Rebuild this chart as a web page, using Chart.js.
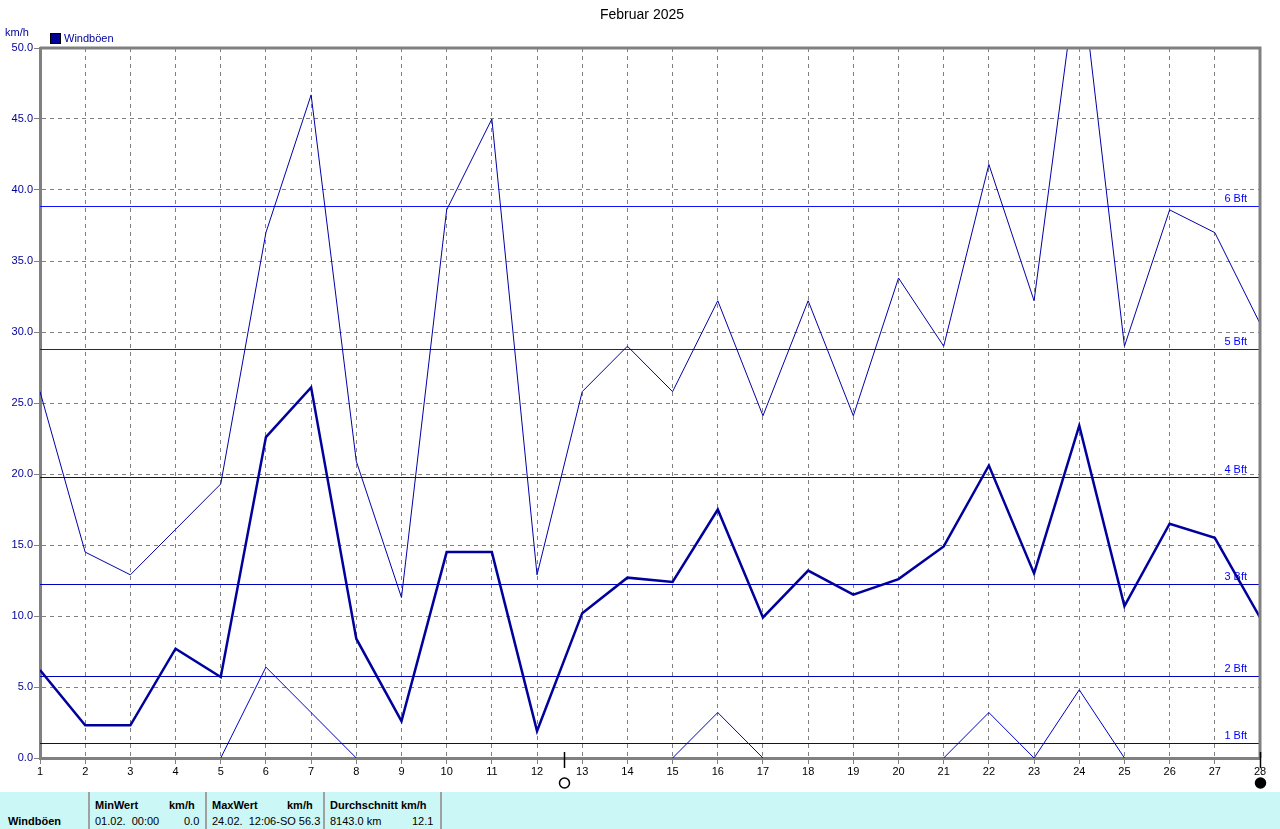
<!DOCTYPE html>
<html>
<head>
<meta charset="utf-8">
<script src="https://cdn.jsdelivr.net/npm/chart.js@4/dist/chart.umd.min.js"></script>
<style>
  body { margin: 0; background: #fff; font-family: "Liberation Sans", Arial, sans-serif; }
  #wrap { position: relative; width: 1280px; height: 790px; }
  #stats { position: absolute; left: 0; top: 792px; width: 1280px; height: 37px; background: #ccf7f7; font-size: 11px; color: #000; }
  #stats div { position: absolute; white-space: nowrap; }
  .sep { top: 0; width: 2px; height: 37px; background: #a0a0a0; }
  .b { font-weight: bold; }
</style>
</head>
<body>
<div id="wrap"><canvas id="chart" width="1280" height="790"></canvas></div>
<div id="stats">
  <div class="b" style="left:8px;top:23px">Windböen</div>
  <div class="sep" style="left:88px"></div>
  <div class="b" style="left:95px;top:7px">MinWert</div>
  <div class="b" style="left:169px;top:7px">km/h</div>
  <div style="left:95px;top:23px">01.02.&nbsp;&nbsp;00:00</div>
  <div style="left:184px;top:23px">0.0</div>
  <div class="sep" style="left:205px"></div>
  <div class="b" style="left:212px;top:7px">MaxWert</div>
  <div class="b" style="left:287px;top:7px">km/h</div>
  <div style="left:212px;top:23px">24.02.&nbsp;&nbsp;12:06-SO 56.3</div>
  <div class="sep" style="left:323px"></div>
  <div class="b" style="left:330px;top:7px">Durchschnitt km/h</div>
  <div style="left:330px;top:23px">8143.0 km</div>
  <div style="left:412px;top:23px">12.1</div>
  <div class="sep" style="left:440px"></div>
</div>
<script>
const days = [1, 2, 3, 4, 5, 6, 7, 8, 9, 10, 11, 12, 13, 14, 15, 16, 17, 18, 19, 20, 21, 22, 23, 24, 25, 26, 27, 28];
const gustMax = [25.8, 14.5, 12.9, 16.1, 19.3, 37.0, 46.7, 20.9, 11.3, 38.6, 45.0, 12.9, 25.8, 29.0, 25.8, 32.2, 24.1, 32.2, 24.1, 33.8, 29.0, 41.8, 32.2, 56.3, 29.0, 38.6, 37.0, 30.6];
const gustAvg = [6.2, 2.3, 2.3, 7.7, 5.7, 22.6, 26.1, 8.4, 2.6, 14.5, 14.5, 1.9, 10.2, 12.7, 12.4, 17.5, 9.9, 13.2, 11.5, 12.6, 14.9, 20.6, 13.0, 23.4, 10.7, 16.5, 15.5, 9.9];
const gustMin = [0, 0, 0, 0, 0, 6.4, 3.2, 0, 0, 0, 0, 0, 0, 0, 0, 3.2, 0, 0, 0, 0, 0, 3.2, 0, 4.8, 0, 0, 0, 0];
const bftLabels = ['1 Bft', '2 Bft', '3 Bft', '4 Bft', '5 Bft', '6 Bft'];
const bftValues = [1.08, 5.76, 12.24, 19.8, 28.8, 38.88];
const moonDays = [12.6, 28];   // full moon, new moon
const moonFilled = [false, true];

const toXY = vals => days.map((d, i) => ({ x: d, y: vals[i] }));
const FONT = '"Liberation Sans", Arial, sans-serif';

// Bft reference lines, frame, title, legend, moon symbols
const decor = {
  id: 'decor',
  beforeDatasetsDraw(chart) {
    const { ctx, chartArea: a, scales: { y } } = chart;
    ctx.save();
    ctx.font = '11px ' + FONT;
    ctx.textAlign = 'right';
    ctx.textBaseline = 'bottom';
    bftValues.forEach((v, i) => {
      const py = Math.round(y.getPixelForValue(v)) + 0.5;
      ctx.strokeStyle = i >= 4 ? '#1010ff' : '#0000c0';
      ctx.lineWidth = 1;
      ctx.beginPath();
      ctx.moveTo(a.left, py);
      ctx.lineTo(a.right, py);
      ctx.stroke();
      ctx.fillStyle = '#0000ff';
      ctx.fillText(bftLabels[i], a.right - 13, py - 2);
    });
    ctx.restore();
  },
  afterDraw(chart) {
    const { ctx, chartArea: a, scales: { x } } = chart;
    ctx.save();
    // frame top and right
    ctx.strokeStyle = '#808080';
    ctx.lineWidth = 3;
    ctx.beginPath();
    ctx.moveTo(a.left, a.top);
    ctx.lineTo(a.right, a.top);
    ctx.lineTo(a.right, a.bottom);
    ctx.stroke();
    // title
    ctx.fillStyle = '#000';
    ctx.font = '14px ' + FONT;
    ctx.textAlign = 'center';
    ctx.textBaseline = 'middle';
    ctx.fillText('Februar 2025', 642, 15);
    // unit
    ctx.font = '11px ' + FONT;
    ctx.textAlign = 'left';
    ctx.fillStyle = '#000099';
    ctx.fillText('km/h', 5, 33);
    // legend
    ctx.fillStyle = '#000099';
    ctx.fillRect(50.5, 33.5, 10, 10);
    ctx.strokeStyle = '#000';
    ctx.lineWidth = 1;
    ctx.strokeRect(50.5, 33.5, 10, 10);
    ctx.fillText('Windböen', 64, 39);
    // moon phases
    moonDays.forEach((d, i) => {
      const px = Math.round(x.getPixelForValue(d)) + 0.5;
      ctx.strokeStyle = '#000';
      ctx.lineWidth = 1.5;
      ctx.beginPath();
      ctx.moveTo(px, a.bottom - 6);
      ctx.lineTo(px, a.bottom + 10);
      ctx.stroke();
      ctx.beginPath();
      ctx.arc(px, a.bottom + 25, 5, 0, Math.PI * 2);
      if (moonFilled[i]) { ctx.fillStyle = '#000'; ctx.fill(); }
      ctx.stroke();
    });
    ctx.restore();
  }
};

new Chart(document.getElementById('chart'), {
  type: 'line',
  data: {
    datasets: [
      {
        label: 'Windböen Max',
        data: toXY(gustMax),
        borderColor: '#0000a8',
        borderWidth: 1,
        pointRadius: 0,
        tension: 0
      },
      {
        label: 'Windböen',
        data: toXY(gustAvg),
        borderColor: '#00009c',
        borderWidth: 2.5,
        pointRadius: 0,
        tension: 0
      },
      {
        label: 'Windböen Min',
        data: toXY(gustMin),
        borderColor: '#0000c8',
        borderWidth: 1,
        pointRadius: 0,
        tension: 0,
        segment: {
          borderColor: c => (c.p0.parsed.y === 0 && c.p1.parsed.y === 0) ? 'rgba(0,0,0,0)' : undefined
        }
      }
    ]
  },
  plugins: [decor],
  options: {
    responsive: false,
    animation: false,
    layout: { padding: { top: 48, right: 20, left: 0, bottom: 0 } },
    plugins: {
      legend: { display: false },
      title: { display: false },
      tooltip: { enabled: false }
    },
    scales: {
      x: {
        type: 'linear',
        min: 1,
        max: 28,
        afterFit: s => { s.height = 32; },
        ticks: {
          stepSize: 1,
          color: '#000',
          font: { size: 11, family: FONT },
          padding: 1,
          maxRotation: 0,
          autoSkip: false
        },
        grid: { color: '#808080', lineWidth: 1, tickLength: 6 },
        border: { color: '#808080', width: 3, dash: [4, 4] }
      },
      y: {
        min: 0,
        max: 50,
        afterFit: s => { s.width = 40; },
        ticks: {
          stepSize: 5,
          color: '#000099',
          font: { size: 11, family: FONT },
          padding: 1,
          callback: v => v.toFixed(1)
        },
        grid: { color: '#808080', lineWidth: 1, tickLength: 6 },
        border: { color: '#808080', width: 3, dash: [4, 4] }
      }
    }
  }
});
</script>
</body>
</html>
